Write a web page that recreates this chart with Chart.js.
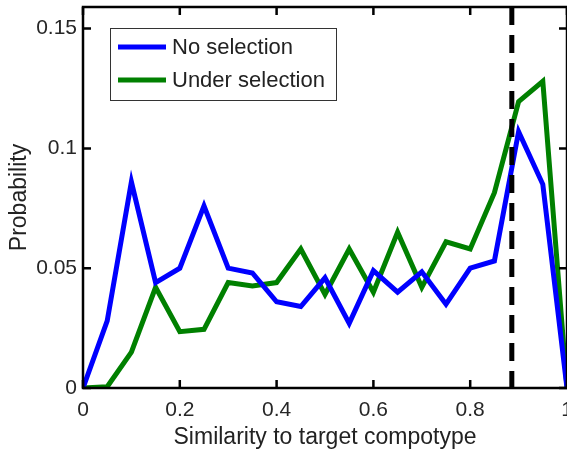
<!DOCTYPE html>
<html>
<head>
<meta charset="utf-8">
<script src="https://cdn.jsdelivr.net/npm/chart.js@4/dist/chart.umd.min.js"></script>
<style>
  html, body { margin: 0; padding: 0; background: #fff; overflow: hidden; }
</style>
</head>
<body>
<canvas id="myChart" width="567" height="454"></canvas>
<script>
// similarity bins 0..1 step 0.05
var similarity = [0, 0.05, 0.1, 0.15, 0.2, 0.25, 0.3, 0.35, 0.4, 0.45, 0.5,
                  0.55, 0.6, 0.65, 0.7, 0.75, 0.8, 0.85, 0.9, 0.95, 1];
var noSelection = [0, 0.028, 0.086, 0.044, 0.050, 0.076, 0.050, 0.048, 0.036, 0.034, 0.046,
                   0.027, 0.049, 0.040, 0.0485, 0.035, 0.050, 0.053, 0.107, 0.085, 0];
var underSelection = [0, 0.0005, 0.015, 0.042, 0.0235, 0.0245, 0.044, 0.0426, 0.044, 0.058, 0.039,
                      0.058, 0.040, 0.065, 0.042, 0.061, 0.058, 0.0815, 0.1195, 0.128, 0];
var xTicks = [0, 0.2, 0.4, 0.6, 0.8, 1];
var yTicks = [0, 0.05, 0.1, 0.15];
var targetLine = 0.886;

function pts(ys) {
  return similarity.map(function (x, i) { return { x: x, y: ys[i] }; });
}

// MATLAB style box, inward ticks, dashed marker and legend
var boxPlugin = {
  id: "box",
  afterDatasetsDraw: function (chart) {
    var ctx = chart.ctx, a = chart.chartArea;
    var xs = chart.scales.x, ys = chart.scales.y;
    ctx.save();
    // dashed target line
    var px = xs.getPixelForValue(targetLine);
    ctx.strokeStyle = "#000";
    ctx.lineWidth = 5;
    ctx.setLineDash([18, 10]);
    ctx.beginPath();
    ctx.moveTo(px, a.top);
    ctx.lineTo(px, a.bottom);
    ctx.stroke();
    ctx.setLineDash([]);

    // box
    ctx.lineWidth = 2.5;
    ctx.strokeRect(a.left, a.top, a.right - a.left, a.bottom - a.top);

    // ticks
    var len = 8;
    ctx.beginPath();
    xTicks.forEach(function (v) {
      var p = xs.getPixelForValue(v);
      ctx.moveTo(p, a.bottom); ctx.lineTo(p, a.bottom - len);
      ctx.moveTo(p, a.top); ctx.lineTo(p, a.top + len);
    });
    yTicks.forEach(function (v) {
      var p = ys.getPixelForValue(v);
      ctx.moveTo(a.left, p); ctx.lineTo(a.left + len, p);
      ctx.moveTo(a.right, p); ctx.lineTo(a.right - len, p);
    });
    ctx.stroke();

    // legend
    var lx = 110, ly = 28, lw = 226, lh = 72;
    ctx.fillStyle = "#fff";
    ctx.fillRect(lx, ly, lw, lh);
    ctx.lineWidth = 1;
    ctx.strokeStyle = "#333";
    ctx.strokeRect(lx + 0.5, ly + 0.5, lw, lh);
    ctx.font = "22px 'Liberation Sans', Arial, sans-serif";
    ctx.textBaseline = "middle";
    chart.data.datasets.forEach(function (ds, i) {
      var y = ly + 19 + i * 33;
      ctx.strokeStyle = ds.borderColor;
      ctx.lineWidth = 5;
      ctx.beginPath();
      ctx.moveTo(lx + 8, y);
      ctx.lineTo(lx + 56, y);
      ctx.stroke();
      ctx.fillStyle = "#222";
      ctx.fillText(ds.label, lx + 62, y + 1);
    });
    ctx.restore();
  }
};

var ctx = document.getElementById("myChart").getContext("2d");
var myChart = new Chart(ctx, {
  type: "line",
  data: {
    datasets: [
      {
        label: "No selection",
        data: pts(noSelection),
        borderColor: "#0000ff",
        borderWidth: 5,
        pointRadius: 0,
        tension: 0,
        fill: false,
      },
      {
        label: "Under selection",
        data: pts(underSelection),
        borderColor: "#008000",
        borderWidth: 5,
        pointRadius: 0,
        tension: 0,
        fill: false,
      },
    ],
  },
  options: {
    responsive: false,
    animation: false,
    layout: { padding: { top: 7, right: 0, left: 0, bottom: 0 } },
    plugins: { legend: { display: false }, tooltip: { enabled: false } },
    scales: {
      x: {
        type: "linear",
        min: 0,
        max: 1,
        grid: { display: false },
        border: { display: false },
        afterBuildTicks: function (s) {
          s.ticks = xTicks.map(function (v) { return { value: v }; });
        },
        afterFit: function (s) {
          s.height = 66;
          s.paddingRight = 0;
          s.paddingLeft = 0;
        },
        ticks: {
          padding: 2,
          color: "#262626",
          font: { family: "'Liberation Sans', Arial, sans-serif", size: 21 },
          maxRotation: 0,
          callback: function (v) { return String(v); },
        },
        title: {
          display: true,
          text: "Similarity to target compotype",
          color: "#222",
          font: { family: "'Liberation Sans', Arial, sans-serif", size: 23 },
          padding: { top: 0, bottom: 3 },
        },
      },
      y: {
        min: 0,
        max: 0.159,
        grid: { display: false },
        border: { display: false },
        afterBuildTicks: function (s) {
          s.ticks = yTicks.map(function (v) { return { value: v }; });
        },
        afterFit: function (s) {
          s.width = 83;
          s.paddingTop = 0;
          s.paddingBottom = 0;
        },
        ticks: {
          padding: -2,
          color: "#262626",
          font: { family: "'Liberation Sans', Arial, sans-serif", size: 21 },
          callback: function (v) { return String(v); },
        },
        title: {
          display: true,
          text: "Probability",
          color: "#222",
          font: { family: "'Liberation Sans', Arial, sans-serif", size: 23 },
          padding: { top: 6, bottom: 0 },
        },
      },
    },
  },
  plugins: [boxPlugin],
});
</script>
</body>
</html>
